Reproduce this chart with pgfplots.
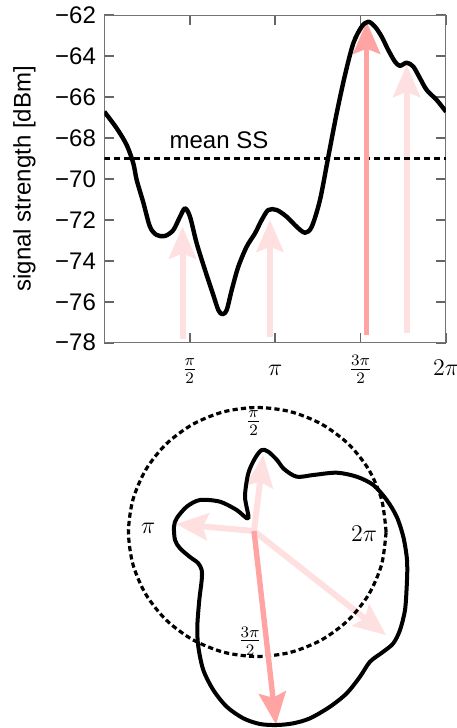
\documentclass[12pt,border=0pt]{standalone}
\usepackage{fontspec}
\setmainfont{Liberation Sans}
\usepackage{pgfplots}
\pgfplotsset{compat=1.18}
\usetikzlibrary{arrows.meta}
\definecolor{pkD}{RGB}{255,163,163}
\definecolor{pkL}{RGB}{255,224,224}
\tikzset{pkarrow/.style={line width=3pt, -{Stealth[length=16pt,width=13.5pt,inset=2.5pt]}}}
\begin{document}
\begin{tikzpicture}
\path[use as bounding box] (0,0) rectangle (228pt,-364pt);
% ---------------- top: signal strength vs angle ----------------
\begin{axis}[
  at={(52.15pt,-171.35pt)}, anchor=south west,
  scale only axis, width=170.85pt, height=163.85pt,
  xmin=0, xmax=6.28319, ymin=-78, ymax=-62,
  enlargelimits=false,
  xtick={1.5708,3.14159,4.71239,6.28319},
  xticklabels={$\frac{\pi}{2}$,$\pi$,$\frac{3\pi}{2}$,$2\pi$},
  ytick={-78,-76,...,-62},
  yticklabels={−78,−76,−74,−72,−70,−68,−66,−64,−62},
  xticklabel style={anchor=base, yshift=-16.15pt},
  tick label style={font=\normalsize},
  axis line style={black!55, line width=0.5pt},
  major tick style={black!60, line width=0.8pt},
  major tick length=5pt,
  ylabel={signal strength [dBm]},
  every axis y label/.style={at={(axis description cs:-0.234,0.5)}, rotate=90, anchor=center, font=\normalsize},
]
\addplot[pkL, pkarrow] coordinates {(1.438,-77.84) (1.438,-72.33)};
\addplot[pkL, pkarrow] coordinates {(3.047,-77.74) (3.047,-72.0)};
\addplot[pkL, pkarrow] coordinates {(5.560,-77.55) (5.560,-64.44)};
\addplot[black, line width=1.6pt, dash pattern=on 3pt off 2pt] coordinates {(0,-69) (6.28319,-69)};
\addplot[pkD, pkarrow, line width=2.7pt] coordinates {(4.825,-77.6) (4.825,-62.33)};
\addplot[black, line width=2.2pt, smooth, line join=round] coordinates {
(0,-66.72) (0.228,-67.53) (0.412,-68.35) (0.533,-69.24) (0.596,-70.06)
(0.717,-71.15) (0.840,-72.34) (0.963,-72.74) (1.116,-72.79) (1.269,-72.50)
(1.392,-71.85) (1.484,-71.44) (1.576,-71.85) (1.699,-73.15) (1.852,-74.45)
(2.004,-75.67) (2.096,-76.40) (2.170,-76.61) (2.251,-76.40) (2.343,-75.43)
(2.464,-74.29) (2.618,-73.31) (2.771,-72.66) (2.894,-72.01) (3.016,-71.52)
(3.170,-71.52) (3.354,-71.85) (3.538,-72.34) (3.690,-72.63) (3.814,-72.34)
(3.966,-71.03) (4.119,-68.92) (4.273,-66.80) (4.426,-64.93) (4.579,-63.38)
(4.733,-62.57) (4.855,-62.33) (4.978,-62.57) (5.101,-63.06) (5.222,-63.71)
(5.345,-64.28) (5.437,-64.48) (5.561,-64.33) (5.682,-64.52) (5.805,-65.09)
(5.928,-65.66) (6.112,-66.15) (6.28319,-66.72)};
\node[anchor=base, font=\normalsize] at (axis cs:2.109,-68.54) {mean SS};
\end{axis}
% ---------------- bottom: polar view ----------------
\begin{axis}[
  at={(57pt,-365.5pt)}, anchor=south west,
  x=0.5pt, y=0.5pt, xmin=-140, xmax=160, ymin=-200, ymax=135,
  enlargelimits=false, hide axis, clip=false,
]
\addplot[pkL, pkarrow] coordinates {(0,0) (9.3,76)};
\addplot[pkL, pkarrow] coordinates {(0,0) (-78,7)};
\addplot[pkL, pkarrow] coordinates {(0,0) (132,-104)};
\addplot[black, line width=1.6pt, dash pattern=on 2.6pt off 1.6pt, smooth] coordinates {
(132.1,-1) (127.7,31.2) (114.8,61.3) (94.4,87.0) (67.7,106.8) (36.6,119.3)
(3.3,123.5) (-30.0,119.3) (-61.1,106.8) (-87.8,87.0) (-108.2,61.3) (-121.1,31.2)
(-125.5,-1) (-121.1,-33.2) (-108.2,-63.3) (-87.8,-89.0) (-61.1,-108.8) (-30.0,-121.3)
(3.3,-125.5) (36.6,-121.3) (67.7,-108.8) (94.4,-89.0) (114.8,-63.3) (127.7,-33.2)
(132.1,-1)};
\addplot[pkD, pkarrow, line width=2.7pt] coordinates {(0,0) (22,-193.5)};
\addplot[black, line width=2pt, smooth, line join=round] coordinates {
(153.3,-39) (152.7,-25.7) (149.3,-5.7) (142.7,14.3) (132.7,31) (119.3,46)
(102.7,54.3) (82.7,58.3) (59.3,56) (42.7,54.3) (30,62) (23,71) (14.3,79.3)
(7.7,81) (1,72.7) (-5.7,57.7) (-9,34.3) (-5.7,12.7) (-17.3,21) (-34,29.3)
(-54,31) (-67.3,24.3) (-77.3,12.7) (-80,4.3) (-79,-9) (-74,-17.3) (-64,-26)
(-56,-32) (-52.3,-39) (-52.3,-49) (-54.7,-69) (-56.7,-95.7) (-55.7,-115.7)
(-50.7,-139) (-40.7,-159) (-27.3,-175.7) (-10.7,-187.3) (6,-193) (22.7,-194)
(39.3,-192.3) (56,-187.3) (76,-175.7) (92.7,-162.3) (106,-145.7) (116,-130.7)
(129.3,-120.7) (139.3,-112.3) (146,-99) (151,-79) (152.7,-55.7) (153.3,-39)};
\node[font=\normalsize] at (axis cs:-0.5,108) {$\frac{\pi}{2}$};
\node[font=\normalsize] at (axis cs:-105.7,2.7) {$\pi$};
\node[font=\normalsize] at (axis cs:110,-3) {$2\pi$};
\node[font=\normalsize] at (axis cs:-4,-110) {$\frac{3\pi}{2}$};
\end{axis}
\end{tikzpicture}
\end{document}
